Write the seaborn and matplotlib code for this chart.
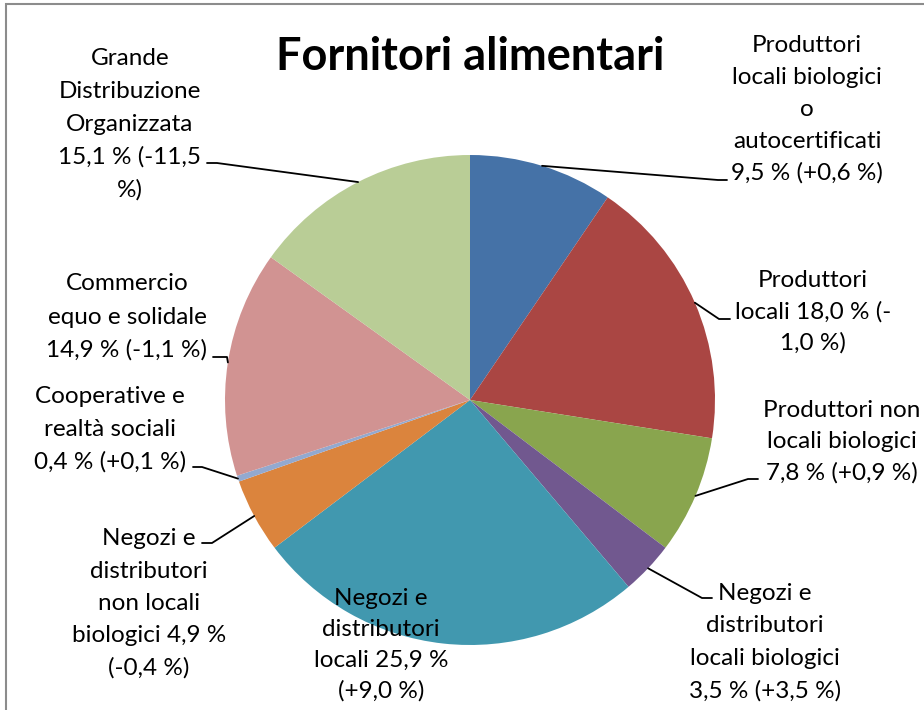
import numpy as np
import matplotlib
matplotlib.use("Agg")
import matplotlib.pyplot as plt
import seaborn as sns

# ---- data ----
categories = [
    "Produttori locali biologici o autocertificati",
    "Produttori locali",
    "Produttori non locali biologici",
    "Negozi e distributori locali biologici",
    "Negozi e distributori locali",
    "Negozi e distributori non locali biologici",
    "Cooperative e realtà sociali",
    "Commercio equo e solidale",
    "Grande Distribuzione Organizzata",
]
shares = [9.5, 18.0, 7.8, 3.5, 25.9, 4.9, 0.4, 14.9, 15.1]
changes = ["+0,6", "-1,0", "+0,9", "+3,5", "+9,0", "-0,4", "+0,1", "-1,1", "-11,5"]
label_lines = [
    ["Produttori", "locali biologici", "o", "autocertificati", "9,5 % (+0,6 %)"],
    ["Produttori", "locali 18,0 % (-", "1,0 %)"],
    ["Produttori non", "locali biologici", "7,8 % (+0,9 %)"],
    ["Negozi e", "distributori", "locali biologici", "3,5 % (+3,5 %)"],
    ["Negozi e", "distributori", "locali 25,9 %", "(+9,0 %)"],
    ["Negozi e", "distributori", "non locali", "biologici 4,9 %", "(-0,4 %)"],
    ["Cooperative e", "realtà sociali", "0,4 % (+0,1 %)"],
    ["Commercio", "equo e solidale", "14,9 % (-1,1 %)"],
    ["Grande", "Distribuzione", "Organizzata", "15,1 % (-11,5", "%)"],
]
title = "Fornitori alimentari"
colors = ["#4572A7", "#AA4643", "#89A54E", "#71588F", "#4198AF",
          "#DB843D", "#93A9CF", "#D19392", "#B9CD96"]

# ---- layout (pixel coordinates, y from top) ----
W, H = 924, 710
CX, CY, R = 470, 400, 245
label_center_x = [807, 813, 842, 765, 381, 149, 110, 127, 130]
label_first_baseline = [52, 287, 417, 600, 605, 545, 403, 290, 65]
line_step = [32, 31.5, 31.5, 32.5, 31, 32.5, 33, 33.5, 33]
# leader: (elbow, end) in pixels; None = no leader
leaders = [
    ((718, 180), (727, 180)),
    ((719, 319), (730, 319)),
    ((748, 479), (758, 479)),
    ((702, 598), (712, 598)),
    None,
    ((212, 543), (202, 543)),
    ((202, 467), (193, 467)),
    ((227, 357), (213, 357)),
    ((217, 163), (207, 163)),
]

sns.set_theme(style="white")
plt.rcParams["font.family"] = ["Lato", "DejaVu Sans"]
palette = sns.color_palette(colors)

fig = plt.figure(figsize=(W / 100, H / 100), dpi=100)
fig.patch.set_facecolor("white")
ax = fig.add_axes([0, 0, 1, 1])

def Y(p):
    return H - p

ax.pie(shares, colors=palette, startangle=90, counterclock=False,
       center=(CX, Y(CY)), radius=R, frame=True,
       wedgeprops=dict(linewidth=0))
ax.set_xlim(0, W)
ax.set_ylim(0, H)
ax.set_aspect("equal")
ax.axis("off")

# border
ax.plot([6, 6, W + 5], [-5, Y(4), Y(4)], color="#8c8c8c", lw=1.5,
        solid_joinstyle="miter", clip_on=False)

# title
ax.text(470, Y(70), title, ha="center", va="baseline",
        fontsize=32.5, fontweight="bold", color="black")

# labels and leaders
total = sum(shares)
cum = np.cumsum([0] + shares[:-1])
for i, lines in enumerate(label_lines):
    for k, s in enumerate(lines):
        ax.text(label_center_x[i], Y(label_first_baseline[i] + k * line_step[i]),
                s, ha="center", va="baseline", fontsize=17.5, color="black")
    if leaders[i] is not None:
        mid = (cum[i] + shares[i] / 2) / total * 2 * np.pi
        ex = CX + R * np.sin(mid)
        ey = CY - R * np.cos(mid)
        (bx, by), (tx, ty) = leaders[i]
        ax.plot([ex, bx, tx], [Y(ey), Y(by), Y(ty)], color="black", lw=1.3)

fig.savefig("out.png", dpi=100, facecolor="white")
